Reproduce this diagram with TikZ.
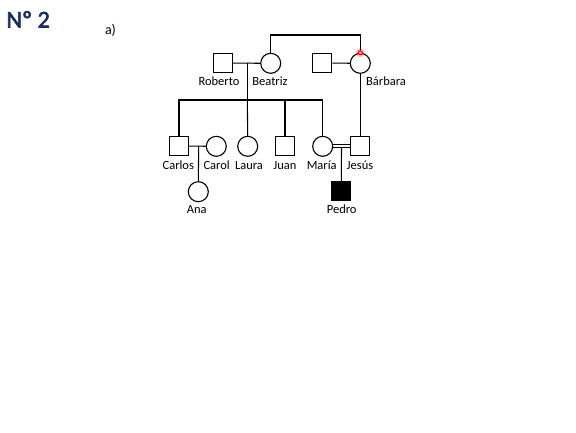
\documentclass[tikz,border=0pt]{standalone}
\usepackage{fontspec}
\setmainfont{Carlito}
\newfontfamily\titlefont{Carlito}[FakeBold=2.5]
\usepackage{xcolor}
\usetikzlibrary{positioning}

\definecolor{titlenavy}{RGB}{23,45,95}

\begin{document}
\begin{tikzpicture}[x=1pt,y=-1pt,line width=1.1pt,
    male/.style={draw,rectangle,minimum size=19pt,inner sep=0pt,fill=white},
    female/.style={draw,circle,minimum size=20pt,inner sep=0pt,fill=white},
    affected/.style={male,fill=black},
    lbl/.style={font=\fontsize{12.5}{14}\selectfont,inner sep=0pt,anchor=base}]
  \useasboundingbox (0,0) rectangle (576,432);
  \node[anchor=base west,font=\titlefont\fontsize{24}{26}\selectfont,text=titlenavy,inner sep=0pt] (title) at (6,27.5) {Nº 2};
  \node[font=\fontsize{14}{16}\selectfont,inner sep=0pt] (part) at (110.5,30) {a)};
  % first generation
  \node[male] (rob) at (223,63) {};
  \node[female] (bea) at (270.7,63.3) {};
  \node[male] (hus) at (322.3,63) {};
  \node[female] (bar) at (360.3,63.3) {};
  \node[lbl] (robl) at (219,85) {Roberto};
  \node[lbl] (beal) at (270,85) {Beatriz};
  \node[lbl] (barl) at (386,85) {Bárbara};
  % second generation
  \node[male] (car) at (179,146) {};
  \node[female] (cal) at (216.3,146.3) {};
  \node[female] (lau) at (247.7,146.3) {};
  \node[male] (jua) at (285,146) {};
  \node[female] (mar) at (322.7,146.3) {};
  \node[male] (jes) at (360.3,146) {};
  \node[lbl] (carl) at (178.3,169) {Carlos};
  \node[lbl] (call) at (216.7,169) {Carol};
  \node[lbl] (laul) at (249,169) {Laura};
  \node[lbl] (jual) at (285,169) {Juan};
  \node[lbl] (marl) at (321.7,169) {María};
  \node[lbl] (jesl) at (360,169) {Jesús};
  % third generation
  \node[female] (ana) at (198.3,191.7) {};
  \node[affected] (ped) at (341.3,191.3) {};
  \node[lbl] (anal) at (196.7,213) {Ana};
  \node[lbl] (pedl) at (341.7,213) {Pedro};
  % couples
  \draw (rob) -- (bea);
  \draw (hus) -- (bar);
  \draw (car) -- (cal);
  \draw ([yshift=-1.5pt]mar.east) -- ([yshift=-1.5pt]mar.east -| jes.west);
  \draw ([yshift=1.5pt]mar.east) -- ([yshift=1.5pt]mar.east -| jes.west);
  % Beatriz and Bárbara
  \draw (bea.north) |- (270.7,35) -| (bar.north);
  % descent lines
  \coordinate (rb) at (247.3,63);
  \coordinate (sib) at (247.3,100);
  \draw (rb) -- (sib);
  \draw (car.north) |- (sib) -| (mar.north);
  \draw (sib) -- (lau.north);
  \draw (jua.north) -- (jua.north |- sib);
  \draw (bar.south) -- (jes.north);
  \coordinate (cc) at (198.7,146);
  \draw (cc) -- (ana.north);
  \coordinate (mj) at (341.5,147.5);
  \draw (mj) -- (ped.north);
  % pointer mark
  \fill[red,opacity=0.25] (bar.north) circle (4.5pt);
  \draw[red,line width=1pt,fill=red!30] (bar.north) circle (2pt);
\end{tikzpicture}
\end{document}
